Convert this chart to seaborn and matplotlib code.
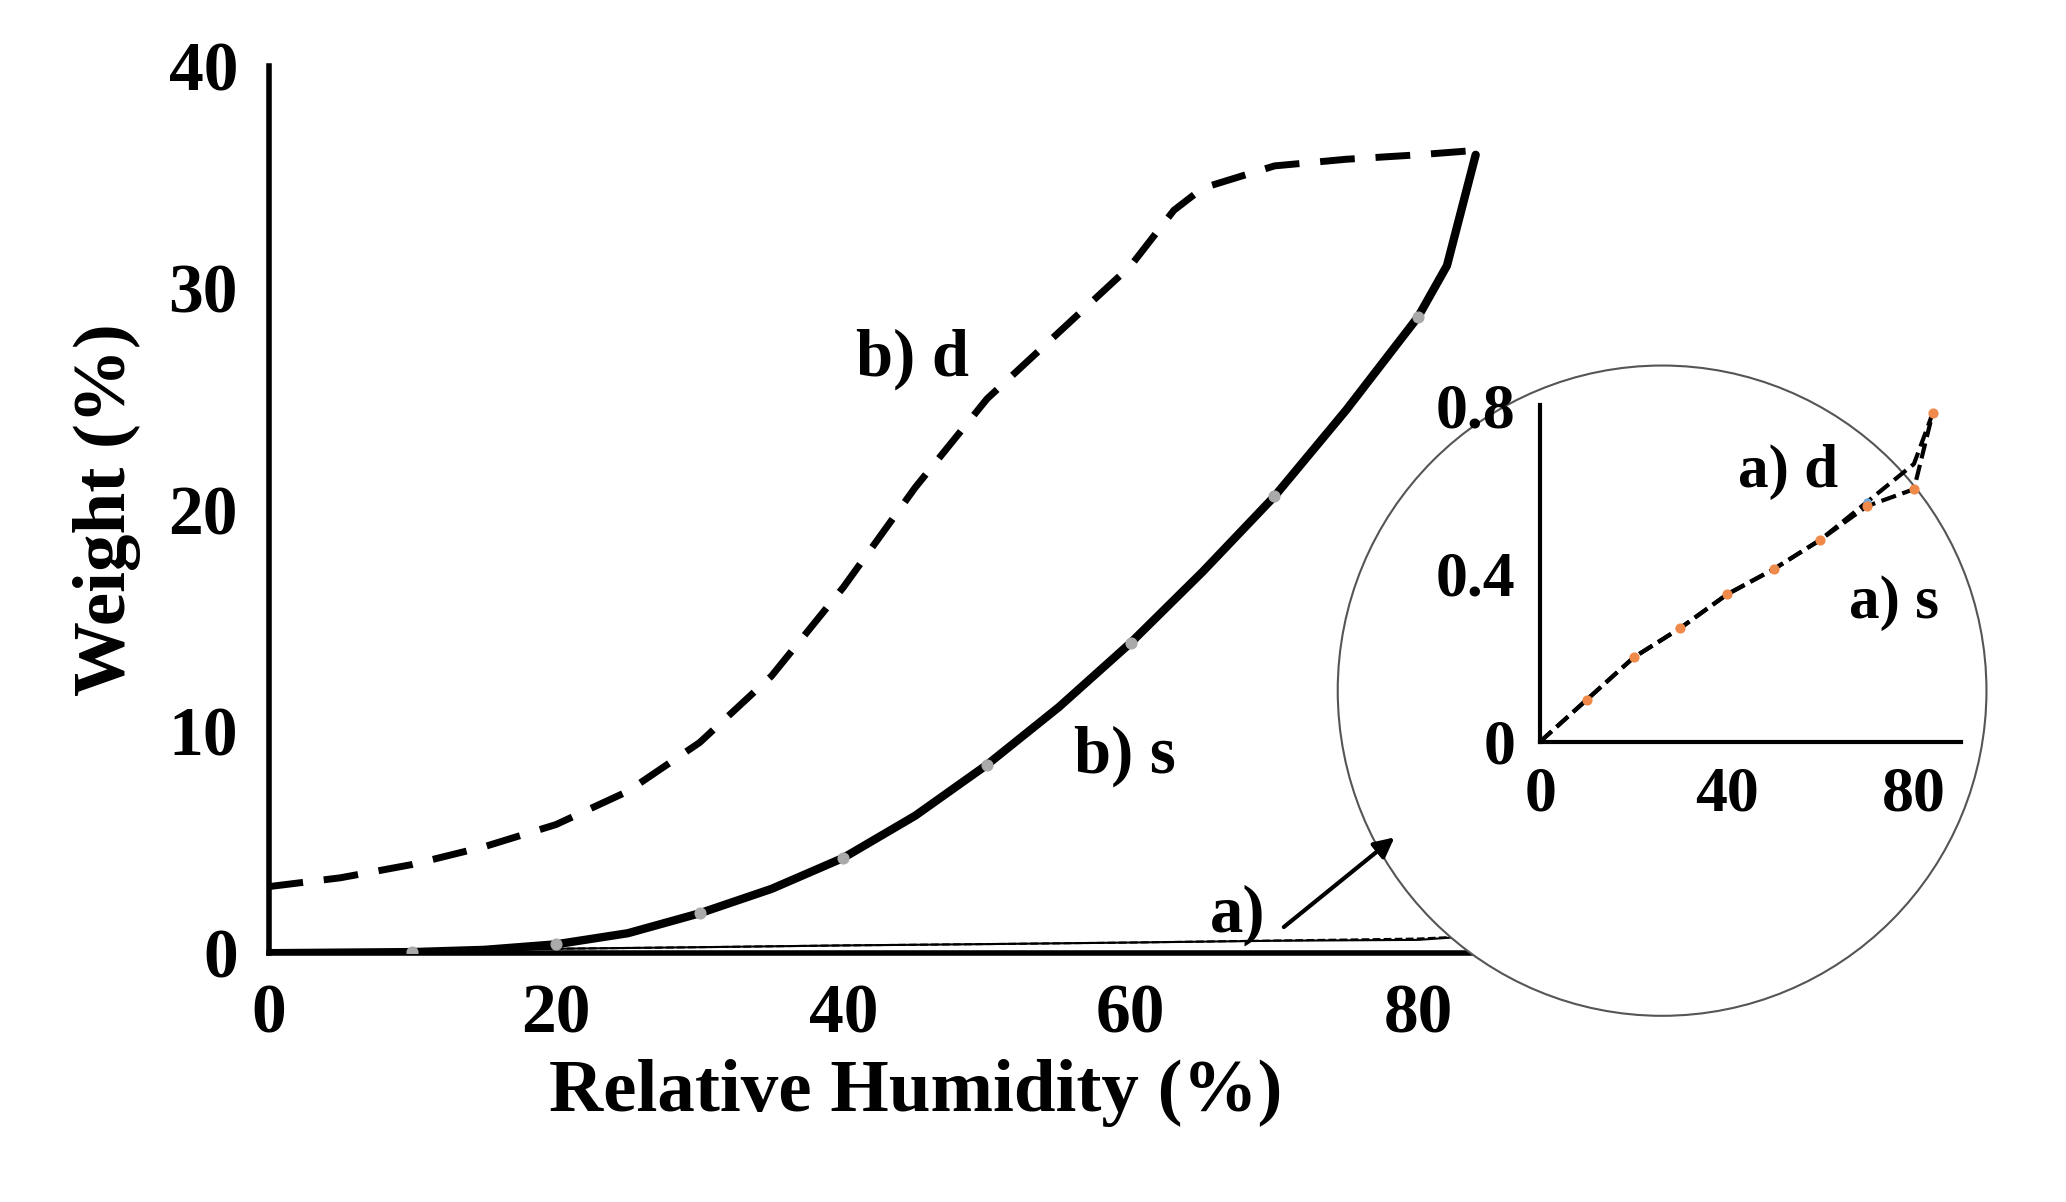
import matplotlib
matplotlib.use("Agg")
import matplotlib.pyplot as plt
import seaborn as sns
from matplotlib.patches import Ellipse

sns.set_theme(style="white")
plt.rcParams['font.family'] = ['Liberation Serif', 'DejaVu Serif']
plt.rcParams['font.weight'] = 'bold'
plt.rcParams['text.color'] = 'black'
plt.rcParams['xtick.color'] = 'black'
plt.rcParams['ytick.color'] = 'black'
plt.rcParams['axes.labelcolor'] = 'black'

rh_d = [0, 5, 10, 15, 20, 25, 30, 35, 40, 45, 50, 55, 60, 63, 65, 70, 75, 80, 84]
b_d = [3.0, 3.4, 4.0, 4.8, 5.8, 7.3, 9.5, 12.5, 16.5, 21.0, 25.0, 28.0, 31.0, 33.5, 34.5, 35.5, 35.8, 36.0, 36.2]
rh_s = [0, 10, 15, 20, 25, 30, 35, 40, 45, 50, 55, 60, 65, 70, 75, 80, 82, 84]
b_s = [0.0, 0.05, 0.15, 0.4, 0.9, 1.8, 2.9, 4.3, 6.2, 8.5, 11.1, 14.0, 17.2, 20.6, 24.5, 28.7, 31.0, 36.0]
rh_mk = [10, 20, 30, 40, 50, 60, 70, 80]
b_mk = [0.05, 0.4, 1.8, 4.3, 8.5, 14.0, 20.6, 28.7]
rh_a = [0, 10, 20, 30, 40, 50, 60, 70, 80, 84]
a_d = [0.0, 0.1, 0.2, 0.27, 0.35, 0.41, 0.48, 0.57, 0.66, 0.78]
a_s = [0.0, 0.1, 0.2, 0.27, 0.35, 0.41, 0.48, 0.56, 0.60, 0.78]

fig = plt.figure(figsize=(20.66, 12.02), dpi=100)
ax = fig.add_axes([0.130, 0.207, 0.626, 0.738])
sns.lineplot(x=rh_d, y=b_d, ax=ax, color='black', lw=5, linestyle=(0, (5, 3)))
sns.lineplot(x=rh_s, y=b_s, ax=ax, color='black', lw=6)
ax.scatter(rh_mk, b_mk, color='#aaaaaa', s=60, zorder=5)
sns.lineplot(x=rh_a, y=a_d, ax=ax, color='black', lw=1.5, linestyle='--')
sns.lineplot(x=rh_a, y=a_s, ax=ax, color='black', lw=1.5)
ax.set_xlim(0, 90)
ax.set_ylim(0, 40)
ax.set_xticks([0, 20, 40, 60, 80])
ax.set_yticks([0, 10, 20, 30, 40])
for s in ['top', 'right']:
    ax.spines[s].set_visible(False)
for s in ['left', 'bottom']:
    ax.spines[s].set_linewidth(4)
    ax.spines[s].set_color('black')
ax.tick_params(labelsize=50, length=0, pad=22)
ax.set_xlabel('Relative Humidity (%)', fontsize=54, fontweight='bold', labelpad=8)
ax.set_ylabel('Weight (%)', fontsize=54, fontweight='bold', labelpad=20)
ax.text(44.8, 26.8, 'b) d', fontsize=48, fontweight='bold', ha='center', va='center')
ax.text(59.6, 8.9, 'b) s', fontsize=48, fontweight='bold', ha='center', va='center')
ax.text(67.4, 1.7, 'a)', fontsize=48, fontweight='bold', ha='center', va='center')

circ = Ellipse((0.8045, 0.4254), 0.314, 0.541, transform=fig.transFigure,
               facecolor='white', edgecolor='#555555', lw=1.5, zorder=3)
fig.patches.append(circ)

top = fig.add_axes([0.130, 0.207, 0.626, 0.738], zorder=5, sharex=ax, sharey=ax)
top.axis('off')
top.annotate('', xy=(78.5, 5.3), xytext=(70.5, 1.1),
             arrowprops=dict(arrowstyle='-|>', color='black', lw=3, mutation_scale=30))

ins = fig.add_axes([0.7455, 0.383, 0.2035, 0.28], zorder=4)
ins.patch.set_alpha(0)
sns.lineplot(x=rh_a, y=a_s, ax=ins, color='black', lw=3, linestyle='--')
sns.lineplot(x=rh_a, y=a_d, ax=ins, color='black', lw=3, linestyle='--')
ins.scatter(rh_a[1:], a_s[1:], color='#f08a4b', s=40, zorder=5)
ins.scatter(rh_a[1:8], a_d[1:8], color='#6fa8dc', s=25, zorder=4)
ins.set_xlim(0, 90)
ins.set_ylim(0, 0.8)
ins.set_xticks([0, 40, 80])
ins.set_yticks([0, 0.4, 0.8])
ins.set_yticklabels(['0', '0.4', '0.8'])
for s in ['top', 'right']:
    ins.spines[s].set_visible(False)
for s in ['left', 'bottom']:
    ins.spines[s].set_linewidth(3)
    ins.spines[s].set_color('black')
ins.tick_params(labelsize=46, length=0, pad=18)
ins.text(53, 0.64, 'a) d', fontsize=44, fontweight='bold', ha='center', va='center')
ins.text(75.7, 0.33, 'a) s', fontsize=44, fontweight='bold', ha='center', va='center')

fig.savefig('out.png', dpi=100, facecolor='white')
